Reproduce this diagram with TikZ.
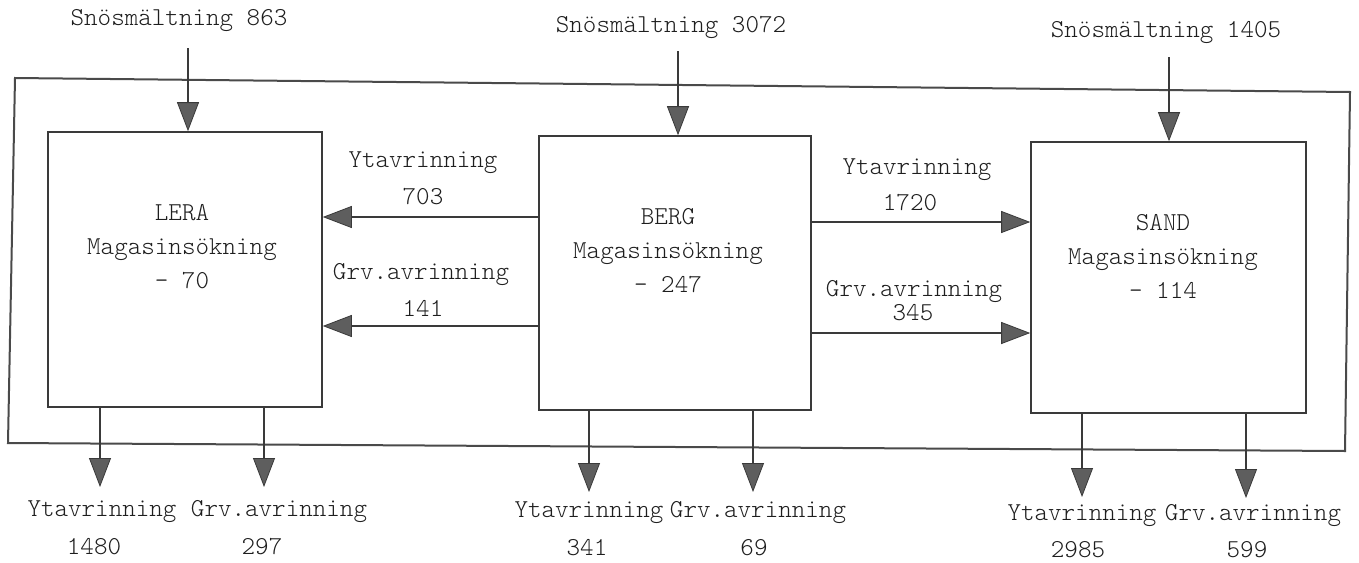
\documentclass[tikz,border=0pt]{standalone}
\usepackage{fontspec}
\setmonofont{Latin Modern Mono Light}
\usetikzlibrary{arrows.meta}
\definecolor{linec}{HTML}{3A3A3A}
\definecolor{framec}{HTML}{4A4A4A}
\definecolor{headc}{HTML}{5E5E5E}
\definecolor{textc}{HTML}{1E1E1E}
\begin{document}
\begin{tikzpicture}[x=1pt,y=-1pt,
  every node/.style={font=\ttfamily\fontsize{25.8}{34}\selectfont, text=textc, inner sep=0pt},
  boxn/.style={draw=linec, line width=1.6pt, rectangle},
  frame/.style={draw=framec, line width=2pt, line join=miter},
  flow/.style={draw=linec, line width=1.6pt, -{Triangle[length=29pt,width=22pt,fill=headc,line width=0.8pt]}},
  lbl/.style={anchor=center},
  inbox/.style={align=center, anchor=center}
]
\useasboundingbox (0,0) rectangle (1359,562);

% outer frame
\draw[frame] (15,78) -- (1350,92) -- (1345,451) -- (8,443) -- cycle;

% boxes
\node[boxn, minimum width=274pt, minimum height=275pt] (lera) at (185,269.5) {};
\node[boxn, minimum width=272pt, minimum height=274pt] (berg) at (675,273) {};
\node[boxn, minimum width=275pt, minimum height=271pt] (sand) at (1168.5,277.5) {};

% box texts
\node[inbox] (leratxt) at (182,247) {LERA\\Magasinsökning\\- 70};
\node[inbox] (bergtxt) at (668,251) {BERG\\Magasinsökning\\- 247};
\node[inbox] (sandtxt) at (1163,256) {SAND\\Magasinsökning\\- 114};

% snow melt
\node[lbl] (s1) at (179,21) {Snösmältning 863};
\node[lbl] (s2) at (671,27) {Snösmältning 3072};
\node[lbl] (s3) at (1166,33) {Snösmältning 1405};
\coordinate (s1a) at (188,48);
\coordinate (s2a) at (678,51);
\coordinate (s3a) at (1169,57);
\draw[flow] (s1a) -- (s1a |- lera.north);
\draw[flow] (s2a) -- (s2a |- berg.north);
\draw[flow] (s3a) -- (s3a |- sand.north);

% horizontal flows
\node[lbl] (ytl) at (423,163) {Ytavrinning};
\node[lbl] (ytlv) at (423,197) {703};
\node[lbl] (gvl) at (421,275) {Grv.avrinning};
\node[lbl] (gvlv) at (423,308) {141};
\node[lbl] (ytr) at (917,170) {Ytavrinning};
\node[lbl] (ytrv) at (910,203) {1720};
\node[lbl] (gvr) at (914,292) {Grv.avrinning};
\node[lbl] (gvrv) at (913,313) {345};
\coordinate (hl1) at (430,217);
\coordinate (hl2) at (430,326);
\coordinate (hr1) at (920,222);
\coordinate (hr2) at (920,333);
\draw[flow] (berg.west |- hl1) -- (lera.east |- hl1);
\draw[flow] (berg.west |- hl2) -- (lera.east |- hl2);
\draw[flow] (berg.east |- hr1) -- (sand.west |- hr1);
\draw[flow] (berg.east |- hr2) -- (sand.west |- hr2);

% outflows
\coordinate (lo1) at (100,487);
\coordinate (lo2) at (264,487);
\coordinate (bo1) at (589,492);
\coordinate (bo2) at (753,492);
\coordinate (so1) at (1082,497);
\coordinate (so2) at (1246,498);
\draw[flow] (lera.south -| lo1) -- (lo1);
\draw[flow] (lera.south -| lo2) -- (lo2);
\draw[flow] (berg.south -| bo1) -- (bo1);
\draw[flow] (berg.south -| bo2) -- (bo2);
\draw[flow] (sand.south -| so1) -- (so1);
\draw[flow] (sand.south -| so2) -- (so2);

\node[lbl] (ly) at (102,512) {Ytavrinning};
\node[lbl] (lg) at (279,512) {Grv.avrinning};
\node[lbl] (lyv) at (94,547) {1480};
\node[lbl] (lgv) at (262,547) {297};
\node[lbl] (by) at (589,513) {Ytavrinning};
\node[lbl] (bg) at (758,513) {Grv.avrinning};
\node[lbl] (byv) at (587,548) {341};
\node[lbl] (bgv) at (754,548) {69};
\node[lbl] (sy) at (1082,516) {Ytavrinning};
\node[lbl] (sg) at (1253,516) {Grv.avrinning};
\node[lbl] (syv) at (1078,550) {2985};
\node[lbl] (sgv) at (1247,550) {599};
\end{tikzpicture}
\end{document}
